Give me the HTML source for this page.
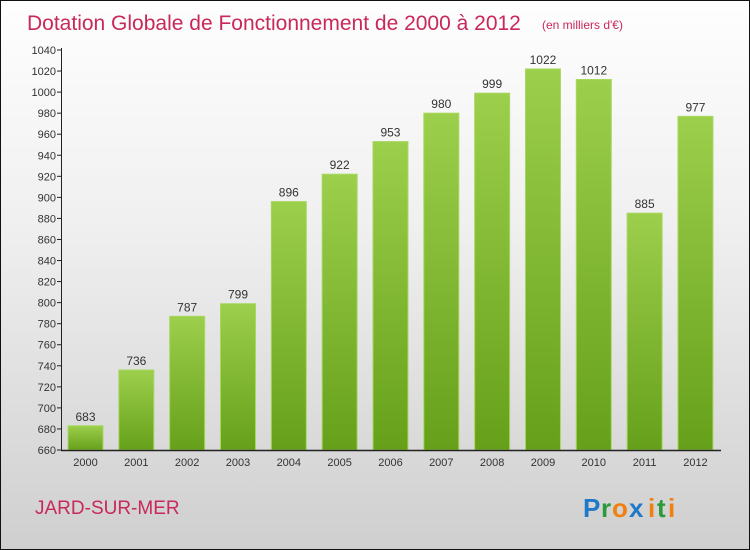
<!DOCTYPE html>
<html><head><meta charset="utf-8"><style>
body{margin:0;width:750px;height:550px;overflow:hidden;font-family:"Liberation Sans",sans-serif;}
#wrap{position:absolute;left:0;top:0;width:748px;height:548px;border:1px solid #111;background:linear-gradient(#fefefe,#f0f0f0 40%,#cfcfcf);}
</style></head><body>
<div id="wrap">
<svg id="svg" width="750" height="550" style="position:absolute;left:-1px;top:-1px">
<defs><linearGradient id="g" x1="0" y1="0" x2="0" y2="1"><stop offset="0" stop-color="#9ccf4c"/><stop offset="1" stop-color="#66a01a"/></linearGradient></defs>
<text x="27" y="30" font-size="21" fill="#c8285a">Dotation Globale de Fonctionnement de 2000 à 2012</text>
<text x="542" y="29" font-size="12" fill="#c8285a">(en milliers d'€)</text>
<text x="35" y="514" font-size="19" fill="#c8285a">JARD-SUR-MER</text>
<g font-size="26" font-weight="bold" font-family="Liberation Sans, sans-serif">
<text x="583" y="517" fill="#1f78c8">P</text><text x="601" y="517" fill="#2a9a3a">r</text><text x="612" y="517" fill="#f08010">o</text><text x="629" y="517" fill="#1f78c8">x</text><text x="648" y="517" fill="#f08010">i</text><text x="657" y="517" fill="#2a9a3a">t</text><text x="668" y="517" fill="#f08010">i</text></g>
<g id="plot"></g>
</svg></div>
<script>
const categories=["2000","2001","2002","2003","2004","2005","2006","2007","2008","2009","2010","2011","2012"];
const values=[683,736,787,799,896,922,953,980,999,1022,1012,885,977];
const yTicks=[660,680,700,720,740,760,780,800,820,840,860,880,900,920,940,960,980,1000,1020,1040];
const ns="http://www.w3.org/2000/svg";
const plot=document.getElementById('plot');
const y=v=>450-(v-660)*400/380;
const x=i=>68+i*50.83;
function mk(t,a){const e=document.createElementNS(ns,t);for(const k in a)e.setAttribute(k,a[k]);plot.appendChild(e);return e;}
yTicks.forEach(v=>{
 const l=mk('line',{x1:57,x2:62,y1:y(v),y2:y(v),stroke:'#222'});
 
 
 const t=mk('text',{x:56,y:y(v)+4,'font-size':11,'text-anchor':'end',fill:'#333'});t.textContent=v;
 
 
});
values.forEach((v,i)=>{
 const r=mk('rect',{x:x(i),y:y(v),width:35,height:450-y(v),fill:'url(#g)',stroke:'#a8d860','stroke-width':1});
 
 
 const t=mk('text',{x:x(i)+17.5,y:y(v)-5,'font-size':12,'text-anchor':'middle',fill:'#333'});t.textContent=v;
 
 
 const c=mk('text',{x:x(i)+17.5,y:466,'font-size':11,'text-anchor':'middle',fill:'#333'});c.textContent=categories[i];
 
 
});
const ya=mk('line',{x1:61.5,x2:61.5,y1:48,y2:450,stroke:'#222'});


const xa=mk('line',{x1:61,x2:721,y1:450.5,y2:450.5,stroke:'#222','stroke-width':1.5});


</script>
</body></html>
